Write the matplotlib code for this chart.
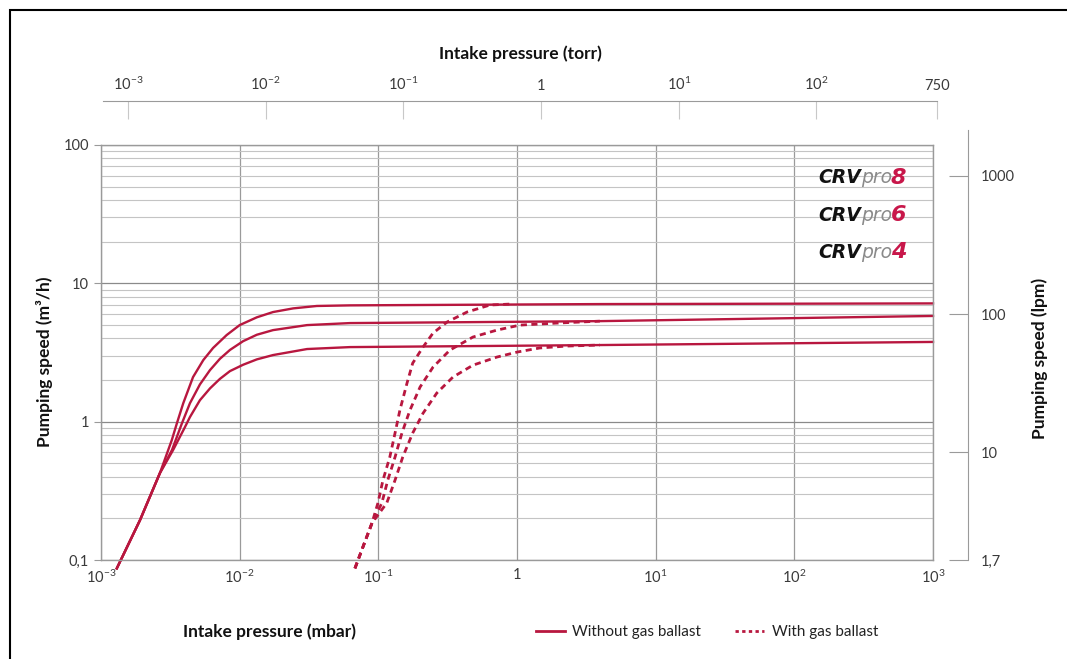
import numpy as np
import matplotlib
matplotlib.use("Agg")
import matplotlib.pyplot as plt
from matplotlib.lines import Line2D
from matplotlib.patches import Rectangle

# Pumping speed curves (m3/h) vs intake pressure (mbar)
# without gas ballast
p_8 = [1.30e-3, 1.91e-3, 2.66e-3, 3.24e-3, 3.53e-3, 3.92e-3, 4.61e-3, 5.47e-3, 6.43e-3, 8.06e-3,
       1.0e-2, 1.33e-2, 1.74e-2, 2.43e-2, 3.6e-2, 6.24e-2, 3.96, 1000]
s_8 = [0.087, 0.194, 0.425, 0.736, 0.977, 1.36, 2.10, 2.79, 3.41, 4.23,
       4.99, 5.68, 6.20, 6.59, 6.86, 6.93, 7.08, 7.16]
p_6 = [1.30e-3, 1.91e-3, 2.66e-3, 3.25e-3, 3.84e-3, 4.38e-3, 5.17e-3, 6.11e-3, 7.21e-3, 8.51e-3,
       1.06e-2, 1.33e-2, 1.74e-2, 3.06e-2, 6.24e-2, 3.96, 1000]
s_6 = [0.087, 0.194, 0.425, 0.624, 0.977, 1.36, 1.86, 2.36, 2.85, 3.30,
       3.82, 4.25, 4.59, 4.99, 5.16, 5.33, 5.81]
p_4 = [1.30e-3, 1.91e-3, 2.66e-3, 3.3e-3, 4.0e-3, 4.38e-3, 5.17e-3, 6.11e-3, 7.21e-3, 8.51e-3,
       1.06e-2, 1.33e-2, 1.74e-2, 3.06e-2, 6.24e-2, 3.96, 1000]
s_4 = [0.087, 0.194, 0.425, 0.62, 0.90, 1.08, 1.43, 1.74, 2.04, 2.32,
       2.58, 2.82, 3.03, 3.35, 3.46, 3.58, 3.77]

# with gas ballast
pg_8 = [0.0678, 0.0774, 0.090, 0.0993, 0.108, 0.121, 0.132, 0.143, 0.161, 0.177, 0.210, 0.248, 0.313, 0.436, 0.638, 0.89]
sg_8 = [0.087, 0.124, 0.185, 0.258, 0.378, 0.555, 0.828, 1.21, 1.90, 2.65, 3.46, 4.37, 5.25, 6.20, 6.97, 7.08]
pg_6 = [0.0678, 0.0774, 0.090, 0.106, 0.117, 0.132, 0.148, 0.169, 0.200, 0.248, 0.328, 0.481, 0.716, 1.05, 1.94, 3.96]
sg_6 = [0.087, 0.124, 0.185, 0.258, 0.378, 0.555, 0.828, 1.21, 1.78, 2.48, 3.29, 4.09, 4.59, 4.99, 5.16, 5.33]
pg_4 = [0.0678, 0.0774, 0.090, 0.115, 0.132, 0.150, 0.177, 0.210, 0.264, 0.345, 0.481, 0.716, 1.01, 1.46, 2.29, 3.96]
sg_4 = [0.087, 0.124, 0.185, 0.258, 0.378, 0.555, 0.828, 1.15, 1.61, 2.10, 2.56, 2.93, 3.19, 3.41, 3.52, 3.58]

mbar_ticks = [1e-3, 1e-2, 1e-1, 1, 10, 100, 1000]
mbar_labels = [r'$\mathregular{10^{-3}}$', r'$\mathregular{10^{-2}}$', r'$\mathregular{10^{-1}}$', '1',
               r'$\mathregular{10^{1}}$', r'$\mathregular{10^{2}}$', r'$\mathregular{10^{3}}$']
torr_ticks = [1e-3, 1e-2, 1e-1, 1, 10, 100, 750]
torr_labels = [r'$\mathregular{10^{-3}}$', r'$\mathregular{10^{-2}}$', r'$\mathregular{10^{-1}}$', '1',
               r'$\mathregular{10^{1}}$', r'$\mathregular{10^{2}}$', '750']
speed_ticks = [0.1, 1, 10, 100]
speed_labels = ['0,1', '1', '10', '100']
lpm_ticks = [100 / 60, 10, 100, 1000]
lpm_labels = ['1,7', '10', '100', '1000']

red = '#b8173f'
grey = '#9a9a9a'
txt = '#3a3a3a'
plt.rcParams['font.family'] = ['Lato', 'DejaVu Sans']

W, H = 1067, 659
fig = plt.figure(figsize=(W / 100, H / 100), dpi=100)


def fx(px):
    return px / W


def fy(py):
    return 1 - py / H


# main axes
ax = fig.add_axes([fx(101), fy(560), fx(933) - fx(101), fy(145) - fy(560)])
ax.set_xscale('log')
ax.set_yscale('log')
ax.set_xlim(1e-3, 1e3)
ax.set_ylim(0.1, 100)

ax.grid(True, which='major', axis='x', color=grey, lw=0.9)
ax.grid(True, which='major', axis='y', color='#8a8a8a', lw=0.9)
ax.grid(True, which='minor', axis='y', color='#c4c4c4', lw=0.8)
ax.set_axisbelow(True)
for s in ax.spines.values():
    s.set_color(grey)
    s.set_linewidth(1.0)

ax.set_xticks(mbar_ticks)
ax.set_xticklabels(mbar_labels)
ax.set_yticks(speed_ticks)
ax.set_yticklabels(speed_labels)
ax.tick_params(axis='both', which='major', length=5, color=grey, labelsize=10.5, labelcolor=txt)
ax.tick_params(axis='x', which='major', length=0, pad=6)
ax.tick_params(which='minor', length=0)
ax.xaxis.set_minor_locator(matplotlib.ticker.NullLocator())

lw = 1.7
dash = (0, (2.2, 1.6))
ax.plot(p_8, s_8, color=red, lw=lw, clip_on=False, solid_joinstyle='round')
ax.plot(p_6, s_6, color=red, lw=lw, clip_on=False, solid_joinstyle='round')
ax.plot(p_4, s_4, color=red, lw=lw, clip_on=False, solid_joinstyle='round')
ax.plot(pg_8, sg_8, color=red, lw=2.0, ls=dash, clip_on=False)
ax.plot(pg_6, sg_6, color=red, lw=2.0, ls=dash, clip_on=False)
ax.plot(pg_4, sg_4, color=red, lw=2.0, ls=dash, clip_on=False)

# top torr scale
ax_t = fig.add_axes([fx(103), fy(130), fx(937) - fx(103), fy(101) - fy(130)])
ax_t.set_xscale('log')
ax_t.set_xlim(6.6e-4, 750)
ax_t.set_yticks([])
for k in ['left', 'right', 'bottom']:
    ax_t.spines[k].set_visible(False)
ax_t.spines['top'].set_color(grey)
ax_t.patch.set_alpha(0)
ax_t.xaxis.set_ticks_position('top')
ax_t.set_xticks(torr_ticks)
ax_t.set_xticklabels(torr_labels)
ax_t.xaxis.set_minor_locator(matplotlib.ticker.NullLocator())
ax_t.tick_params(axis='x', direction='in', length=13, color='#c8c8c8', pad=6, labelsize=10.5, labelcolor=txt)
ax_t.set_title('Intake pressure (torr)', fontsize=12.5, fontweight='bold', color='#111111', pad=30)

# right lpm scale
ax_r = fig.add_axes([fx(933), fy(560), fx(968) - fx(933), fy(130) - fy(560)])
ax_r.set_yscale('log')
ax_r.set_ylim(100 / 60, 100 / 60 * 10 ** (430 / 138.3))
ax_r.set_xticks([])
for k in ['left', 'top', 'bottom']:
    ax_r.spines[k].set_visible(False)
ax_r.spines['right'].set_color(grey)
ax_r.patch.set_alpha(0)
ax_r.yaxis.set_ticks_position('right')
ax_r.set_yticks(lpm_ticks)
ax_r.set_yticklabels(lpm_labels)
ax_r.yaxis.set_minor_locator(matplotlib.ticker.NullLocator())
ax_r.tick_params(axis='y', direction='in', length=14, color=grey, pad=9, labelsize=10.5, labelcolor=txt)

# axis titles
fig.text(fx(45), fy(362), 'Pumping speed (m³/h)', rotation=90, ha='center', va='center',
         fontsize=12.5, fontweight='bold', color='#111111')
fig.text(fx(1040), fy(358), 'Pumping speed (lpm)', rotation=90, ha='center', va='center',
         fontsize=12.5, fontweight='bold', color='#111111')
fig.text(fx(183), fy(632), 'Intake pressure (mbar)', ha='left', va='center',
         fontsize=12.5, fontweight='bold', color='#111111')

# legend
handles = [Line2D([], [], color=red, lw=2.0),
           Line2D([], [], color=red, lw=2.0, ls=(0, (1.2, 1.2)))]
fig.legend(handles, ['Without gas ballast', 'With gas ballast'], ncol=2, frameon=False,
           loc='center left', bbox_to_anchor=(fx(522), fy(632)), fontsize=11,
           handlelength=1.9, handletextpad=0.5, columnspacing=2.2, labelcolor='#222222')

# model names
for py, num in [(178, '8'), (215, '6'), (252, '4')]:
    fig.text(fx(818), fy(py), 'CRV', ha='left', va='center', fontsize=13.5,
             fontweight='heavy', style='italic', color='#111111', family=['DejaVu Sans'])
    fig.text(fx(861), fy(py), 'pro', ha='left', va='center', fontsize=13.5,
             style='italic', color='#8a8a8a', family=['DejaVu Sans'])
    fig.text(fx(891), fy(py), num, ha='left', va='center', fontsize=16,
             fontweight='bold', style='italic', color='#c8174a', family=['DejaVu Sans'])

# outer frame
fig.patches.append(Rectangle((fx(10), -0.1), 1.2, fy(10) + 0.1, transform=fig.transFigure,
                             fill=False, ec='black', lw=1.5))

fig.savefig('out.png', dpi=100, facecolor='white')
